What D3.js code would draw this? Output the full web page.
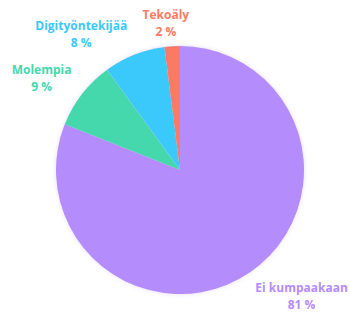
<!DOCTYPE html>
<html>
<head>
<meta charset="utf-8">
<script src="https://cdn.jsdelivr.net/npm/d3@7"></script>
<style>
  body { margin: 0; background: #fff; }
  .slice-label { font-family: "Open Sans", "Lato", sans-serif; font-weight: 700; font-size: 12px; }
</style>
</head>
<body>
<div id="chart"></div>
<script>
// Share of answers, clockwise from 12 o'clock
const categories = ["Ei kumpaakaan", "Molempia", "Digityöntekijää", "Tekoäly"];
const values = [81, 9, 8, 2];
const colors = ["#b48cfb", "#45d8ad", "#3ac8fb", "#fb7a64"];

// where each label sits: angle (deg, clockwise from north) and distance from centre
const labelPlacement = {
  "Ei kumpaakaan": { angle: 136, r: 175 },
  "Molempia": { angle: 303.5, r: 166 },
  "Digityöntekijää": { angle: 324, r: 168 },
  "Tekoäly": { angle: 354.5, r: 148 }
};

const width = 350, height = 312;
const cx = 180, cy = 170, radius = 124;

const data = categories.map((c, i) => ({ name: c, value: values[i], color: colors[i] }));

const svg = d3.select("#chart").append("svg")
  .attr("width", width)
  .attr("height", height);

// soft halo around the pie
const defs = svg.append("defs");
const f = defs.append("filter").attr("id", "glow")
  .attr("x", "-10%").attr("y", "-10%").attr("width", "120%").attr("height", "120%");
f.append("feGaussianBlur").attr("in", "SourceAlpha").attr("stdDeviation", 2).attr("result", "b");
f.append("feFlood").attr("flood-color", "#c9b4f5").attr("flood-opacity", 0.5);
f.append("feComposite").attr("in2", "b").attr("operator", "in").attr("result", "s");
const merge = f.append("feMerge");
merge.append("feMergeNode").attr("in", "s");
merge.append("feMergeNode").attr("in", "SourceGraphic");

const g = svg.append("g").attr("transform", `translate(${cx},${cy})`);

const pie = d3.pie().value(d => d.value).sort(null);
const arc = d3.arc().innerRadius(0).outerRadius(radius);

g.append("g").attr("filter", "url(#glow)")
  .selectAll("path")
  .data(pie(data))
  .enter()
  .append("path")
  .attr("d", arc)
  .attr("fill", d => d.data.color);

const labels = g.selectAll(".slice-label")
  .data(data)
  .enter()
  .append("text")
  .attr("class", "slice-label")
  .attr("text-anchor", "middle")
  .attr("fill", d => d.color)
  .attr("transform", d => {
    const p = labelPlacement[d.name];
    const a = p.angle * Math.PI / 180;
    return `translate(${p.r * Math.sin(a)},${-p.r * Math.cos(a)})`;
  });

labels.append("tspan")
  .attr("x", 0)
  .attr("y", -4)
  .text(d => d.name);

labels.append("tspan")
  .attr("x", 0)
  .attr("y", 13)
  .text(d => d.value + " %");
</script>
</body>
</html>
